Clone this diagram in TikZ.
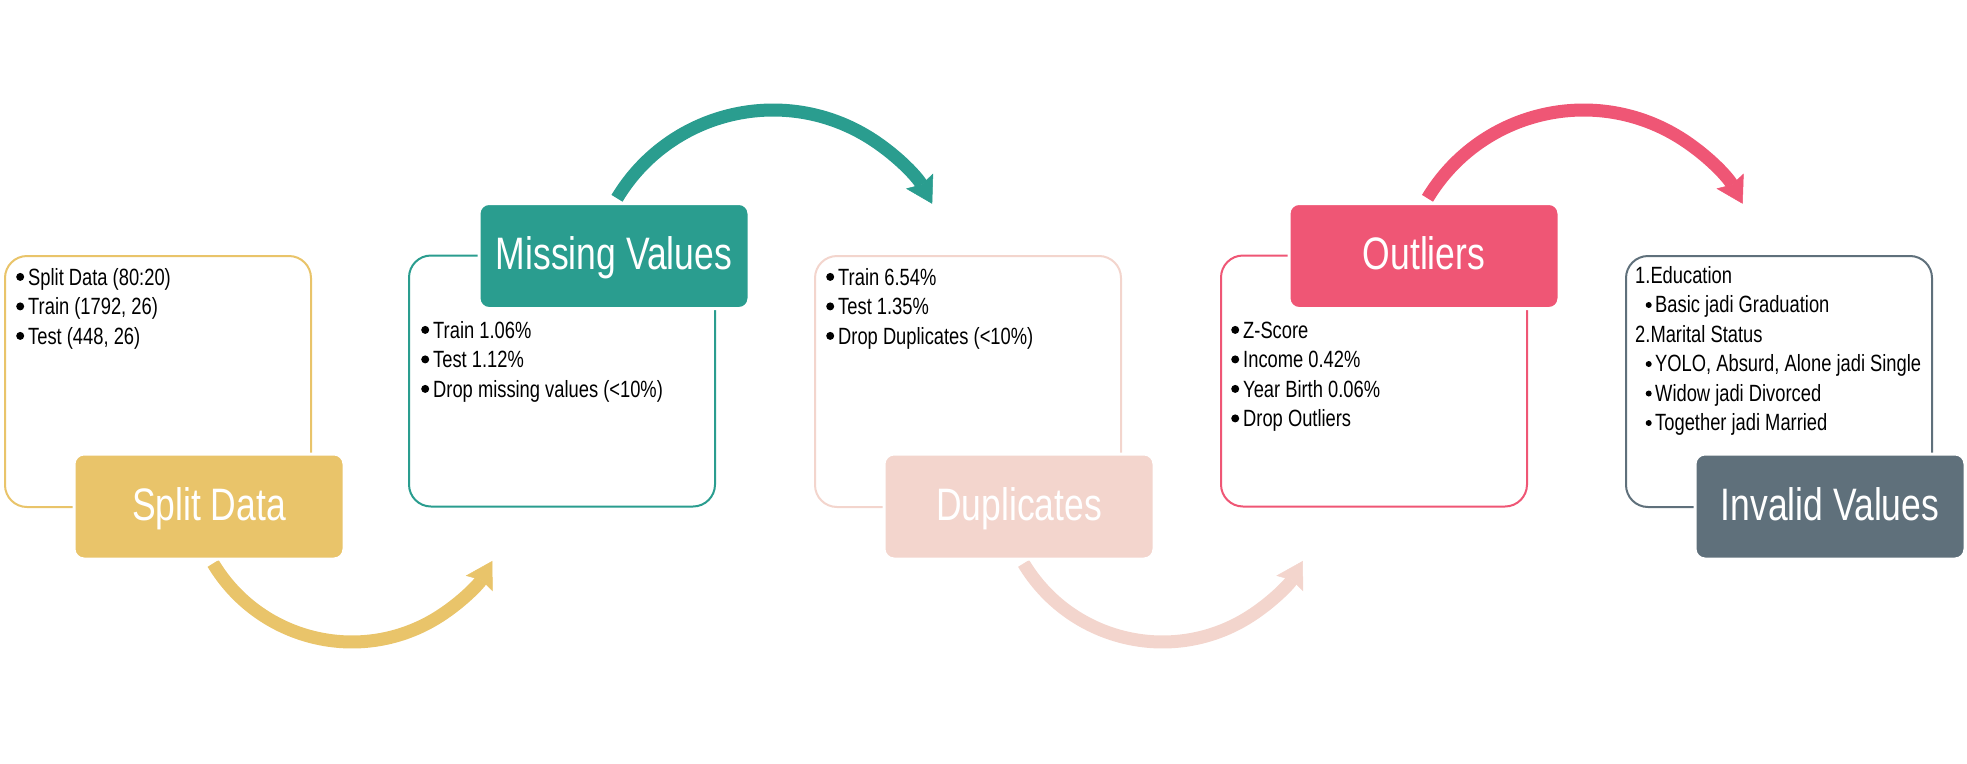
\documentclass[tikz,border=0pt]{standalone}
\usepackage{fontspec}
\setmainfont{Liberation Sans}[FakeStretch=0.78]
\usetikzlibrary{arrows.meta}

\definecolor{cyel}{HTML}{E9C46A}
\definecolor{cteal}{HTML}{2A9D8F}
\definecolor{cblush}{HTML}{F3D5CD}
\definecolor{crose}{HTML}{EF5675}
\definecolor{cslate}{HTML}{5F707B}

% round list markers, drawn as small discs
\newcommand{\itm}{\tikz[baseline=0pt]\fill (0pt,8.3pt) circle[radius=4pt];\hspace*{4pt}}
\newcommand{\subitm}{\hspace*{10.5pt}\tikz[baseline=0pt]\fill (0pt,7.7pt) circle[radius=3pt];\hspace*{3.5pt}}

\tikzset{
  panel/.style={draw=#1, line width=2pt, fill=white, rounded corners=22pt,
    minimum width=306pt, minimum height=251pt, inner sep=0pt},
  tag/.style={fill=#1, draw=white, line width=3pt, rounded corners=10pt,
    minimum width=270pt, minimum height=105pt, inner sep=0pt, text=white,
    font=\fontsize{45.5}{50}\selectfont, text height=27pt, text depth=0pt},
  notes/.style={anchor=north west, inner sep=0pt, align=left,
    font=\fontsize{23.5}{29.5}\selectfont},
  flow/.style={draw=#1, line width=13pt,
    -{Stealth[length=26pt, width=31pt, inset=4pt, line width=0.5pt]}},
}

\begin{document}
\begin{tikzpicture}[x=1pt, y=-1pt]
\useasboundingbox (0,0) rectangle (1967,763);

% curved connectors between the steps
\coordinate (a1s) at (213.1,563.4);
\coordinate (a2s) at (617.0,198.3);
\coordinate (a3s) at (1023.6,563.4);
\coordinate (a4s) at (1427.5,198.3);
\draw[flow=cyel]   (a1s) arc[start angle=149, end angle=30,  radius=162];
\draw[flow=cteal]  (a2s) arc[start angle=211, end angle=331, radius=182];
\draw[flow=cblush] (a3s) arc[start angle=149, end angle=30,  radius=162];
\draw[flow=crose]  (a4s) arc[start angle=211, end angle=331, radius=182];

% detail panels
\node[panel=cyel]   (p1) at (158,381.5)  {};
\node[panel=cteal]  (p2) at (562,381)    {};
\node[panel=cblush] (p3) at (968,381.5)  {};
\node[panel=crose]  (p4) at (1374,381)   {};
\node[panel=cslate] (p5) at (1779,381.5) {};

% step titles
\node[tag=cyel]   (s1) at (209,506.5)  {Split Data};
\node[tag=cteal]  (s2) at (614,256)    {Missing Values};
\node[tag=cblush] (s3) at (1019,506.5) {Duplicates};
\node[tag=crose]  (s4) at (1424,256)   {Outliers};
\node[tag=cslate] (s5) at (1830,506.5) {Invalid Values};

% panel contents
\node[notes] (n1) at (16,264.35) {\strut\itm Split Data (80:20)\\ \itm Train (1792, 26)\\ \itm Test (448, 26)};
\node[notes] (n2) at (421,317.35) {\strut\itm Train 1.06\%\\ \itm Test 1.12\%\\ \itm Drop missing values (<10\%)};
\node[notes] (n3) at (826,264.35) {\strut\itm Train 6.54\%\\ \itm Test 1.35\%\\ \itm Drop Duplicates (<10\%)};
\node[notes] (n4) at (1231,317.35) {\strut\itm Z-Score\\ \itm Income 0.42\%\\ \itm Year Birth 0.06\%\\ \itm Drop Outliers};
\node[notes] (n5) at (1635,262.35) {\strut 1.Education\\ \subitm Basic jadi Graduation\\ 2.Marital Status\\ \subitm YOLO, Absurd, Alone jadi Single\\ \subitm Widow jadi Divorced\\ \subitm Together jadi Married};
\end{tikzpicture}
\end{document}
